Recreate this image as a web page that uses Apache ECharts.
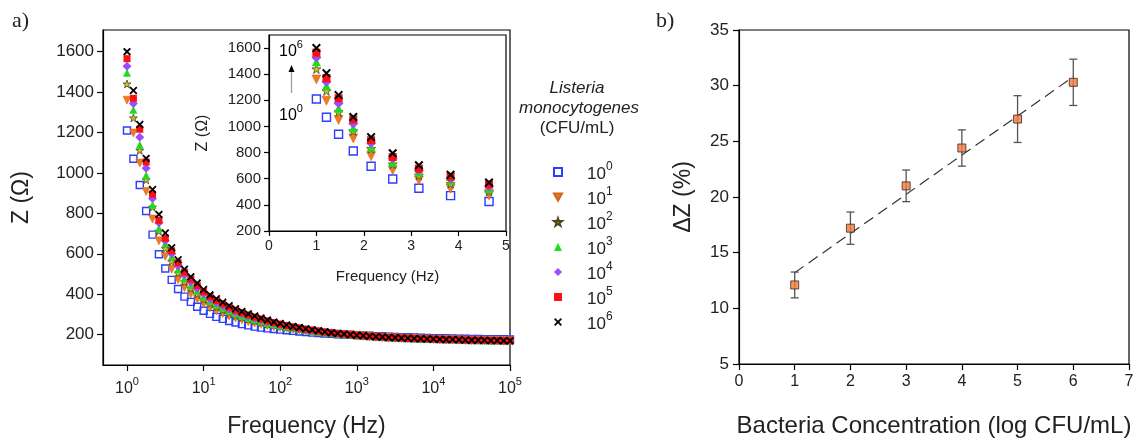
<!DOCTYPE html>
<html>
<head>
<meta charset="utf-8">
<script src="https://cdn.jsdelivr.net/npm/echarts@6/dist/echarts.min.js"></script>
<style>
html,body{margin:0;padding:0;background:#fff;}
#c{width:1141px;height:443px;}
</style>
</head>
<body>
<div id="c"></div>
<script>
// ---------- Data: panel a) impedance spectra ----------
const freq = [1, 1.212, 1.468, 1.778, 2.154, 2.610, 3.162, 3.831, 4.642, 5.623, 6.813, 8.254,
  10, 12.12, 14.68, 17.78, 21.54, 26.10, 31.62, 38.31, 46.42, 56.23, 68.13, 82.54,
  100, 121.2, 146.8, 177.8, 215.4, 261.0, 316.2, 383.1, 464.2, 562.3, 681.3, 825.4,
  1000, 1212, 1468, 1778, 2154, 2610, 3162, 3831, 4642, 5623, 6813, 8254,
  10000, 12115, 14678, 17783, 21544, 26102, 31623, 38312, 46416, 56234, 68129, 82540, 100000];

const z1e0 = [1210,1070,940,812,695,598,527,471,426,388,362,338,
  318,303,288,278,268,260,252,246,240,235,231,228,
  225,222,219,216,213,210,208,206,204,202,200,199,
  198,196,195,193,192,190,189,188,187,186,185,184,
  183,182,182,181,180,180,179,179,178,178,177,177,176];
const z1e1 = [1360,1197,1049,908,772,664,587,523,472,432,402,375,
  352,333,317,304,292,282,272,264,257,250,244,239,
  235,230,226,222,218,214,212,209,206,203,201,200,
  197,195,193,190,188,187,185,184,182,181,180,179,
  178,177,177,176,175,174,174,173,172,172,171,171,170];
const z1e2 = [1440,1272,1112,966,831,712,626,562,505,461,429,401,
  375,354,337,322,309,297,286,277,268,260,253,247,
  241,236,231,226,222,218,214,210,207,204,202,200,
  197,195,192,190,188,186,185,183,182,181,180,179,
  178,177,176,176,175,174,173,173,172,171,171,170,170];
const z1e3 = [1495,1312,1139,989,843,727,651,587,523,479,445,416,
  388,366,348,333,318,306,294,284,275,266,258,251,
  245,239,234,229,224,219,215,211,208,205,202,200,
  197,195,192,190,188,186,185,183,182,181,180,179,
  178,177,176,176,175,174,173,173,172,171,171,170,170];
const z1e4 = [1528,1343,1177,1023,874,754,664,600,541,495,460,430,
  401,377,359,343,327,314,302,291,281,272,263,256,
  249,243,236,231,226,221,217,212,209,205,202,200,
  196,194,191,189,187,185,184,182,181,180,179,178,
  177,176,175,175,174,173,172,172,171,170,170,169,169];
const z1e5 = [1565,1369,1216,1054,895,766,677,615,556,510,474,443,
  413,388,369,352,336,321,309,297,287,277,268,260,
  252,245,239,233,227,223,218,213,209,206,203,200,
  197,195,192,190,188,186,185,183,182,181,180,179,
  178,177,176,176,175,174,173,173,172,171,171,170,170];
const z1e6 = [1600,1408,1240,1072,918,795,703,630,571,524,486,455,
  423,397,378,360,343,328,315,303,292,282,272,263,
  255,248,241,235,229,224,219,214,210,206,203,200,
  197,195,192,190,188,186,185,183,182,181,180,179,
  178,177,176,176,175,174,173,173,172,171,171,170,170];

const seriesNames = ['10^0','10^1','10^2','10^3','10^4','10^5','10^6'];
const seriesValues = [z1e0, z1e1, z1e2, z1e3, z1e4, z1e5, z1e6];
const insetCount = 9; // inset shows the first points (1 - 4.64 Hz)

const mainYTicks = [200,400,600,800,1000,1200,1400,1600];
const mainXTicks = [1,10,100,1000,10000,100000];
const insetXTicks = [0,1,2,3,4,5];

// ---------- Data: panel b) calibration ----------
const concLog = [1,2,3,4,5,6];
const deltaZ = [12.1, 17.2, 21.0, 24.4, 27.0, 30.3];
const deltaZErr = [1.16, 1.45, 1.42, 1.63, 2.10, 2.08];
const fitX = [1, 6];
const fitY = [13.2, 30.8];

// ---------- Styles ----------
const FONT = 'Liberation Sans, Arial, sans-serif';
const styles = [
  {symbol:'rect', color:'rgba(255,255,255,0)', border:'#2b3dff', bw:1.4, size:7},
  {symbol:'path://M0,0 L10,0 L5,9 Z', color:'#f07a22', border:'#d0641a', bw:0.5, size:8},
  {symbol:'path://M5,0 L6.2,3.6 L10,3.6 L7,5.9 L8.1,9.5 L5,7.3 L1.9,9.5 L3,5.9 L0,3.6 L3.8,3.6 Z', color:'#cfc02a', border:'#4a4420', bw:0.8, size:8},
  {symbol:'triangle', color:'#1fdc1f', border:'#1fdc1f', bw:0, size:8},
  {symbol:'diamond', color:'#9b4cff', border:'#9b4cff', bw:0, size:9},
  {symbol:'rect', color:'#ff1010', border:'#ff1010', bw:0, size:7},
  {symbol:'path://M0,1.6 L1.6,0 L5,3.4 L8.4,0 L10,1.6 L6.6,5 L10,8.4 L8.4,10 L5,6.6 L1.6,10 L0,8.4 L3.4,5 Z', color:'#000', border:'#000', bw:0, size:8}
];

const supRich = (fs) => ({
  b: {fontFamily: FONT, fontSize: fs, lineHeight: fs + 5, verticalAlign: 'bottom', color: '#222'},
  s: {fontFamily: FONT, fontSize: Math.round(fs * 0.7), lineHeight: fs + 5, verticalAlign: 'top', color: '#222'}
});
const powLabel = (txt) => { const p = txt.split('^'); return '{b|' + p[0] + '}{s|' + p[1] + '}'; };
const plain = v => String(v);

const series = [];
seriesValues.forEach((vals, i) => {
  const st = styles[i];
  series.push({
    name: seriesNames[i], type: 'scatter', xAxisIndex: 0, yAxisIndex: 0,
    symbol: st.symbol, symbolSize: st.size,
    itemStyle: {color: st.color, borderColor: st.border, borderWidth: st.bw, opacity: 1},
    data: freq.map((f, k) => [f, vals[k]]),
    z: 2 + i, animation: false
  });
});
seriesValues.forEach((vals, i) => {
  const st = styles[i];
  series.push({
    name: seriesNames[i], type: 'scatter', xAxisIndex: 1, yAxisIndex: 1,
    symbol: st.symbol, symbolSize: st.size + 1,
    itemStyle: {color: st.color, borderColor: st.border, borderWidth: st.bw, opacity: 1},
    data: freq.slice(0, insetCount).map((f, k) => [f, vals[k]]),
    z: 20 + i, animation: false
  });
});
// panel b
series.push({
  type: 'line', xAxisIndex: 2, yAxisIndex: 2, showSymbol: false, symbol: 'none',
  data: fitX.map((x, i) => [x, fitY[i]]),
  lineStyle: {color: '#333', width: 1.2, type: [11, 6]}, z: 3, animation: false, silent: true
});
series.push({
  type: 'custom', xAxisIndex: 2, yAxisIndex: 2, z: 4, animation: false, silent: true,
  data: concLog.map((x, i) => [x, deltaZ[i] - deltaZErr[i], deltaZ[i] + deltaZErr[i]]),
  renderItem: function (params, api) {
    const lo = api.coord([api.value(0), api.value(1)]);
    const hi = api.coord([api.value(0), api.value(2)]);
    const w = 4;
    const s = {stroke: '#555', lineWidth: 1.3};
    return {type: 'group', children: [
      {type: 'line', shape: {x1: lo[0], y1: lo[1], x2: hi[0], y2: hi[1]}, style: s},
      {type: 'line', shape: {x1: lo[0] - w, y1: lo[1], x2: lo[0] + w, y2: lo[1]}, style: s},
      {type: 'line', shape: {x1: hi[0] - w, y1: hi[1], x2: hi[0] + w, y2: hi[1]}, style: s}
    ]};
  }
});
series.push({
  type: 'scatter', xAxisIndex: 2, yAxisIndex: 2, symbol: 'rect', symbolSize: 8,
  itemStyle: {color: '#f47a3a', borderColor: '#3a2a20', borderWidth: 1},
  data: concLog.map((x, i) => [x, deltaZ[i]]), z: 5, animation: false
});

const axisLine = {show: true, lineStyle: {color: '#000', width: 1.2}};
const axisTick = (vals, len) => ({show: true, length: len, inside: false, lineStyle: {color: '#000', width: 1.2}, customValues: vals});

const option = {
  backgroundColor: '#fff',
  animation: false,
  grid: [
    {left: 103, top: 30, width: 407, height: 342, show: true, borderColor: '#000', borderWidth: 1.2, backgroundColor: 'transparent'},
    {left: 269, top: 35, width: 237, height: 196, show: true, borderColor: '#000', borderWidth: 1.2, backgroundColor: 'transparent'},
    {left: 739, top: 30, width: 390, height: 341, show: true, borderColor: '#000', borderWidth: 1.2, backgroundColor: 'transparent'}
  ],
  xAxis: [
    {gridIndex: 0, type: 'log', logBase: 10, min: 0.486, max: 100000,
      axisLine: axisLine, axisTick: axisTick(mainXTicks, 6), splitLine: {show: false}, minorTick: {show: false},
      axisLabel: {customValues: mainXTicks, margin: 11, color: '#222', rich: supRich(16),
        formatter: v => powLabel('10^' + Math.round(Math.log10(v)))},
      name: 'Frequency (Hz)', nameLocation: 'middle', nameGap: 50,
      nameTextStyle: {fontFamily: FONT, fontSize: 23, color: '#222'}},
    {gridIndex: 1, type: 'value', min: 0, max: 5, interval: 1,
      axisLine: axisLine, axisTick: axisTick(insetXTicks, 5), splitLine: {show: false},
      axisLabel: {customValues: insetXTicks, formatter: plain, fontFamily: FONT, fontSize: 14, color: '#222', margin: 8},
      name: 'Frequency (Hz)', nameLocation: 'middle', nameGap: 38,
      nameTextStyle: {fontFamily: FONT, fontSize: 15, color: '#222'}},
    {gridIndex: 2, type: 'value', min: 0, max: 7, interval: 1,
      axisLine: axisLine, axisTick: {show: true, length: 6, lineStyle: {color: '#000', width: 1.2}}, splitLine: {show: false},
      axisLabel: {formatter: plain, fontFamily: FONT, fontSize: 16, color: '#222', margin: 10},
      name: 'Bacteria Concentration (log CFU/mL)', nameLocation: 'middle', nameGap: 50,
      nameTextStyle: {fontFamily: FONT, fontSize: 24, color: '#222'}}
  ],
  yAxis: [
    {gridIndex: 0, type: 'value', min: 50, max: 1707,
      axisLine: axisLine, axisTick: axisTick(mainYTicks, 6), splitLine: {show: false},
      axisLabel: {customValues: mainYTicks, formatter: plain, fontFamily: FONT, fontSize: 17, color: '#222', margin: 9},
      name: 'Z (Ω)', nameLocation: 'middle', nameGap: 70, nameRotate: 90,
      nameTextStyle: {fontFamily: FONT, fontSize: 23, color: '#222'}},
    {gridIndex: 1, type: 'value', min: 200, max: 1700,
      axisLine: axisLine, axisTick: axisTick(mainYTicks, 5), splitLine: {show: false},
      axisLabel: {customValues: mainYTicks, formatter: plain, fontFamily: FONT, fontSize: 15, color: '#222', margin: 8},
      name: 'Z (Ω)', nameLocation: 'middle', nameGap: 58, nameRotate: 90,
      nameTextStyle: {fontFamily: FONT, fontSize: 16, color: '#222'}},
    {gridIndex: 2, type: 'value', min: 5, max: 35, interval: 5,
      axisLine: axisLine, axisTick: {show: true, length: 6, lineStyle: {color: '#000', width: 1.2}}, splitLine: {show: false},
      axisLabel: {formatter: plain, fontFamily: FONT, fontSize: 17, color: '#222', margin: 10},
      name: 'ΔZ (%)', nameLocation: 'middle', nameGap: 44, nameRotate: 90,
      nameTextStyle: {fontFamily: FONT, fontSize: 23, color: '#222'}}
  ],
  legend: {
    show: true, orient: 'vertical', left: 548, top: 156, itemGap: 3,
    itemWidth: 8, itemHeight: 8, selectedMode: false,
    data: seriesNames,
    formatter: name => powLabel(name),
    textStyle: {padding: [0, 0, 0, 20], rich: supRich(17)}
  },
  graphic: [
    {type: 'text', left: 12, top: 10, style: {text: 'a)', font: '22px "Liberation Serif", "Times New Roman", serif', fill: '#222'}},
    {type: 'text', left: 656, top: 10, style: {text: 'b)', font: '22px "Liberation Serif", "Times New Roman", serif', fill: '#222'}},
    {type: 'text', x: 577, y: 88, style: {text: 'Listeria', font: 'italic 17px "Liberation Sans", Arial, sans-serif', fill: '#222', align: 'center', verticalAlign: 'middle'}},
    {type: 'text', x: 579, y: 108, style: {text: 'monocytogenes', font: 'italic 17px "Liberation Sans", Arial, sans-serif', fill: '#222', align: 'center', verticalAlign: 'middle'}},
    {type: 'text', x: 577, y: 128, style: {text: '(CFU/mL)', font: '17px "Liberation Sans", Arial, sans-serif', fill: '#222', align: 'center', verticalAlign: 'middle'}},
    {type: 'text', x: 279, y: 39, z: 50, style: {text: '{b|10}{s|6}', rich: supRich(16)}},
    {type: 'text', x: 279, y: 103, z: 50, style: {text: '{b|10}{s|0}', rich: supRich(16)}},
    {type: 'line', z: 50, shape: {x1: 291.5, y1: 93, x2: 291.5, y2: 71}, style: {stroke: '#999', lineWidth: 1.2}},
    {type: 'polygon', z: 50, shape: {points: [[291.5, 65], [288.5, 72], [294.5, 72]]}, style: {fill: '#000'}}
  ],
  series: series
};

const chart = echarts.init(document.getElementById('c'), null, {renderer: 'canvas'});
chart.setOption(option);
</script>
</body>
</html>
